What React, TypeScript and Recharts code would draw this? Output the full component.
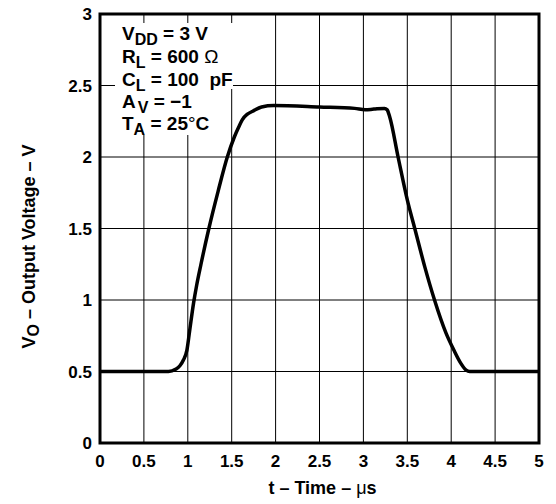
import React from 'react';
import {
  LineChart,
  Line,
  XAxis,
  YAxis,
  CartesianGrid,
  ReferenceArea,
  Customized,
} from 'recharts';

const timeUs = [
  0, 0.5, 0.78, 0.86, 0.91, 0.95, 0.99, 1.02, 1.066, 1.1, 1.15, 1.24, 1.345,
  1.45, 1.53, 1.58, 1.62, 1.68, 1.74, 1.84, 1.98, 2.5, 2.9, 3.02, 3.12, 3.24,
  3.27, 3.3, 3.395, 3.5, 3.585, 3.7, 3.81, 3.94, 4.03, 4.11, 4.17, 4.21, 4.5, 5,
];
const outputV = [
  0.5, 0.5, 0.5, 0.515, 0.54, 0.58, 0.65, 0.78, 0.98, 1.1, 1.25, 1.5, 1.76,
  2.0, 2.14, 2.21, 2.26, 2.3, 2.32, 2.35, 2.36, 2.35, 2.34, 2.33, 2.335, 2.34,
  2.33, 2.28, 2.0, 1.7, 1.5, 1.23, 1.0, 0.77, 0.65, 0.557, 0.51, 0.5, 0.5, 0.5,
];
const xTicks = [0, 0.5, 1, 1.5, 2, 2.5, 3, 3.5, 4, 4.5, 5];
const yTicks = [0, 0.5, 1, 1.5, 2, 2.5, 3];

const data = timeUs.map((t, i) => ({ t, v: outputV[i] }));

const FONT = '"Liberation Sans", Arial, Helvetica, sans-serif';

const tickStyle = {
  fill: '#000',
  fontSize: 17,
  fontWeight: 'bold' as const,
  fontFamily: FONT,
};

const Annotation = () => {
  const x0 = 122;
  const sub = { fontSize: 16 };
  return (
    <g fontFamily={FONT} fontWeight="bold" fontSize={19} fill="#000">
      <rect x={115} y={23} width={118} height={66} fill="#fff" />
      <rect x={115} y={88} width={97} height={47} fill="#fff" />
      <text x={x0} y={40} style={{ whiteSpace: 'pre' }}>
        V<tspan {...sub} dy={5}>DD</tspan>
        <tspan dy={-5}> = 3 V</tspan>
      </text>
      <text x={x0} y={63} style={{ whiteSpace: 'pre' }}>
        R<tspan {...sub} dy={5}>L</tspan>
        <tspan dy={-5}> = 600 </tspan>
        <tspan fontWeight="normal">Ω</tspan>
      </text>
      <text x={x0} y={86} style={{ whiteSpace: 'pre' }}>
        C<tspan {...sub} dy={5}>L</tspan>
        <tspan dy={-5}> = 100  pF</tspan>
      </text>
      <text x={x0} y={108} style={{ whiteSpace: 'pre' }}>
        A<tspan {...sub} dx={2} dy={5}>V</tspan>
        <tspan dy={-5}> = −1</tspan>
      </text>
      <text x={x0} y={130} style={{ whiteSpace: 'pre' }}>
        T<tspan {...sub} dy={5}>A</tspan>
        <tspan dy={-5}> = 25</tspan>
        <tspan fontWeight="normal">°</tspan>
        <tspan>C</tspan>
      </text>
    </g>
  );
};

const XTitle = (props: any) => {
  const vb = props.viewBox;
  return (
    <text
      x={vb.x + vb.width / 2 + 3}
      y={vb.y + 51}
      textAnchor="middle"
      fontFamily={FONT}
      fontWeight="bold"
      fontSize={18}
      fill="#000"
    >
      t – Time – <tspan fontWeight="normal">μ</tspan>s
    </text>
  );
};

const YTitle = (props: any) => {
  const vb = props.viewBox;
  const cx = 35;
  const cy = vb.y + vb.height / 2 + 18;
  return (
    <text
      x={cx}
      y={cy}
      transform={`rotate(-90 ${cx} ${cy})`}
      textAnchor="middle"
      fontFamily={FONT}
      fontWeight="bold"
      fontSize={18}
      fill="#000"
    >
      V<tspan fontSize={16} dy={4}>O</tspan>
      <tspan dy={-4}> – Output Voltage – V</tspan>
    </text>
  );
};

export default function App() {
  return (
    <div style={{ position: 'absolute', left: 0, top: 0, background: '#fff' }}>
      <LineChart
        width={556}
        height={504}
        data={data}
        margin={{ top: 14, right: 17, bottom: 0, left: 0 }}
      >
        <CartesianGrid stroke="#000" strokeWidth={1} />
        <XAxis
          dataKey="t"
          type="number"
          domain={[0, 5]}
          ticks={xTicks}
          height={61}
          axisLine={false}
          tickLine={false}
          tickSize={0}
          tickMargin={12}
          tick={tickStyle}
          interval={0}
          label={<XTitle />}
        />
        <YAxis
          type="number"
          domain={[0, 3]}
          ticks={yTicks}
          width={100}
          axisLine={false}
          tickLine={false}
          tickSize={0}
          tickMargin={8}
          tick={tickStyle}
          interval={0}
          label={<YTitle />}
        />
        <Customized component={Annotation} />
        <Line
          dataKey="v"
          type="monotone"
          stroke="#000"
          strokeWidth={3.5}
          dot={false}
          isAnimationActive={false}
        />
        <ReferenceArea
          x1={0}
          x2={5}
          y1={0}
          y2={3}
          fill="none"
          stroke="#000"
          strokeWidth={3}
          fillOpacity={0}
          ifOverflow="visible"
        />
      </LineChart>
    </div>
  );
}
